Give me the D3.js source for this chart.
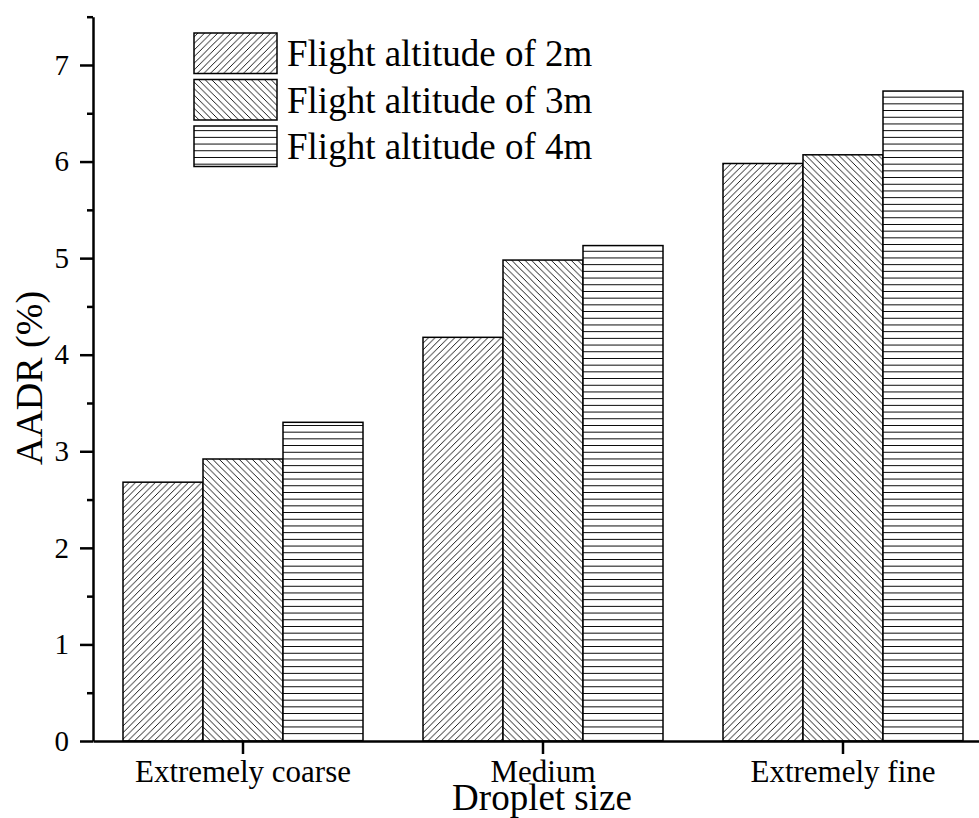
<!DOCTYPE html>
<html>
<head>
<meta charset="utf-8">
<script src="https://cdn.jsdelivr.net/npm/d3@7/dist/d3.min.js"></script>
<style>
  html, body { margin: 0; padding: 0; background: #fff; }
  svg { display: block; }
</style>
</head>
<body>
<svg id="chart" width="979" height="818"></svg>
<script>
const categories = ["Extremely coarse", "Medium", "Extremely fine"];
const seriesNames = ["Flight altitude of 2m", "Flight altitude of 3m", "Flight altitude of 4m"];
const alt2m = [2.68, 4.18, 5.98];
const alt3m = [2.92, 4.98, 6.07];
const alt4m = [3.30, 5.13, 6.73];
const yMajorTicks = [0, 1, 2, 3, 4, 5, 6, 7];
const yMinorTicks = [0.5, 1.5, 2.5, 3.5, 4.5, 5.5, 6.5, 7.5];
const yLabel = "AADR (%)";
const xLabel = "Droplet size";

const FONT = "'Liberation Serif', 'Times New Roman', 'DejaVu Serif', serif";
const series = [alt2m, alt3m, alt4m];
const patternIds = ["pat-fwd", "pat-back", "pat-horiz"];

const svg = d3.select("#chart");
const defs = svg.append("defs");

// hatch patterns
const w = 6.6;
const pf = defs.append("pattern").attr("id", "pat-fwd").attr("patternUnits", "userSpaceOnUse")
  .attr("width", w).attr("height", w);
pf.append("rect").attr("width", w).attr("height", w).attr("fill", "#fff");
pf.append("path").attr("d", `M0,${w} L${w},0 M${-w/2},${w/2} L${w/2},${-w/2} M${w/2},${w*1.5} L${w*1.5},${w/2}`)
  .attr("stroke", "#000").attr("stroke-width", 0.9);

const pb = defs.append("pattern").attr("id", "pat-back").attr("patternUnits", "userSpaceOnUse")
  .attr("width", w).attr("height", w);
pb.append("rect").attr("width", w).attr("height", w).attr("fill", "#fff");
pb.append("path").attr("d", `M0,0 L${w},${w} M${-w/2},${w/2} L${w/2},${w*1.5} M${w/2},${-w/2} L${w*1.5},${w/2}`)
  .attr("stroke", "#000").attr("stroke-width", 0.9);

const hh = 6.7;
const ph = defs.append("pattern").attr("id", "pat-horiz").attr("patternUnits", "userSpaceOnUse")
  .attr("width", 10).attr("height", hh);
ph.append("rect").attr("width", 10).attr("height", hh).attr("fill", "#fff");
ph.append("path").attr("d", `M0,${hh/2} L10,${hh/2}`).attr("stroke", "#000").attr("stroke-width", 1);

const y = d3.scaleLinear().domain([0, 7.5]).range([741, 16.7]);
const x0 = d3.scaleBand().domain(categories).range([93, 993]).paddingInner(0.2).paddingOuter(0.1);
const x1 = d3.scaleBand().domain(d3.range(series.length)).range([0, x0.bandwidth()]).padding(0);

// bars
categories.forEach((c, ci) => {
  const g = svg.append("g").attr("transform", `translate(${x0(c)},0)`);
  series.forEach((s, si) => {
    g.append("rect")
      .attr("x", x1(si))
      .attr("y", y(s[ci]))
      .attr("width", x1.bandwidth())
      .attr("height", y(0) - y(s[ci]))
      .attr("fill", `url(#${patternIds[si]})`)
      .attr("stroke", "#000")
      .attr("stroke-width", 1.5);
  });
});

// y axis
const yAxisG = svg.append("g").attr("transform", "translate(93,0)")
  .call(d3.axisLeft(y).tickValues(yMajorTicks).tickSize(13).tickSizeOuter(0).tickPadding(11).tickFormat(d3.format("d")));
yAxisG.attr("font-family", null).attr("font-size", null);
yAxisG.select(".domain").attr("stroke-width", 2.5);
yAxisG.selectAll(".tick line").attr("stroke-width", 2.5);
yAxisG.selectAll(".tick text").style("font-family", FONT).style("font-size", "29px").attr("fill", "#000");

const yMinorG = svg.append("g").attr("transform", "translate(93,0)")
  .call(d3.axisLeft(y).tickValues(yMinorTicks).tickSize(6).tickFormat(""));
yMinorG.select(".domain").remove();
yMinorG.selectAll(".tick line").attr("stroke-width", 2.5);

// x axis
const xAxisG = svg.append("g").attr("transform", `translate(0,${y(0)})`)
  .call(d3.axisBottom(x0).tickSize(13).tickSizeOuter(0));
xAxisG.attr("font-family", null).attr("font-size", null);
xAxisG.select(".domain").attr("stroke-width", 2.5);
xAxisG.selectAll(".tick line").attr("stroke-width", 2.5);
xAxisG.selectAll(".tick text").attr("y", 41).attr("dy", 0)
  .style("font-family", FONT).style("font-size", "31px").attr("fill", "#000");

// axis titles
svg.append("text").attr("x", 542).attr("y", 810).attr("text-anchor", "middle")
  .style("font-family", FONT).style("font-size", "37px").text(xLabel);
svg.append("text").attr("transform", "translate(42,378) rotate(-90)").attr("text-anchor", "middle")
  .style("font-family", FONT).style("font-size", "38px").text(yLabel);

// legend
const legend = svg.append("g");
seriesNames.forEach((name, i) => {
  const ly = 33 + i * 46.5;
  legend.append("rect").attr("x", 194).attr("y", ly).attr("width", 83).attr("height", 40.5)
    .attr("fill", `url(#${patternIds[i]})`).attr("stroke", "#000").attr("stroke-width", 1.5);
  legend.append("text").attr("x", 287).attr("y", ly + 33)
    .style("font-family", FONT).style("font-size", "37px").text(name);
});
</script>
</body>
</html>
